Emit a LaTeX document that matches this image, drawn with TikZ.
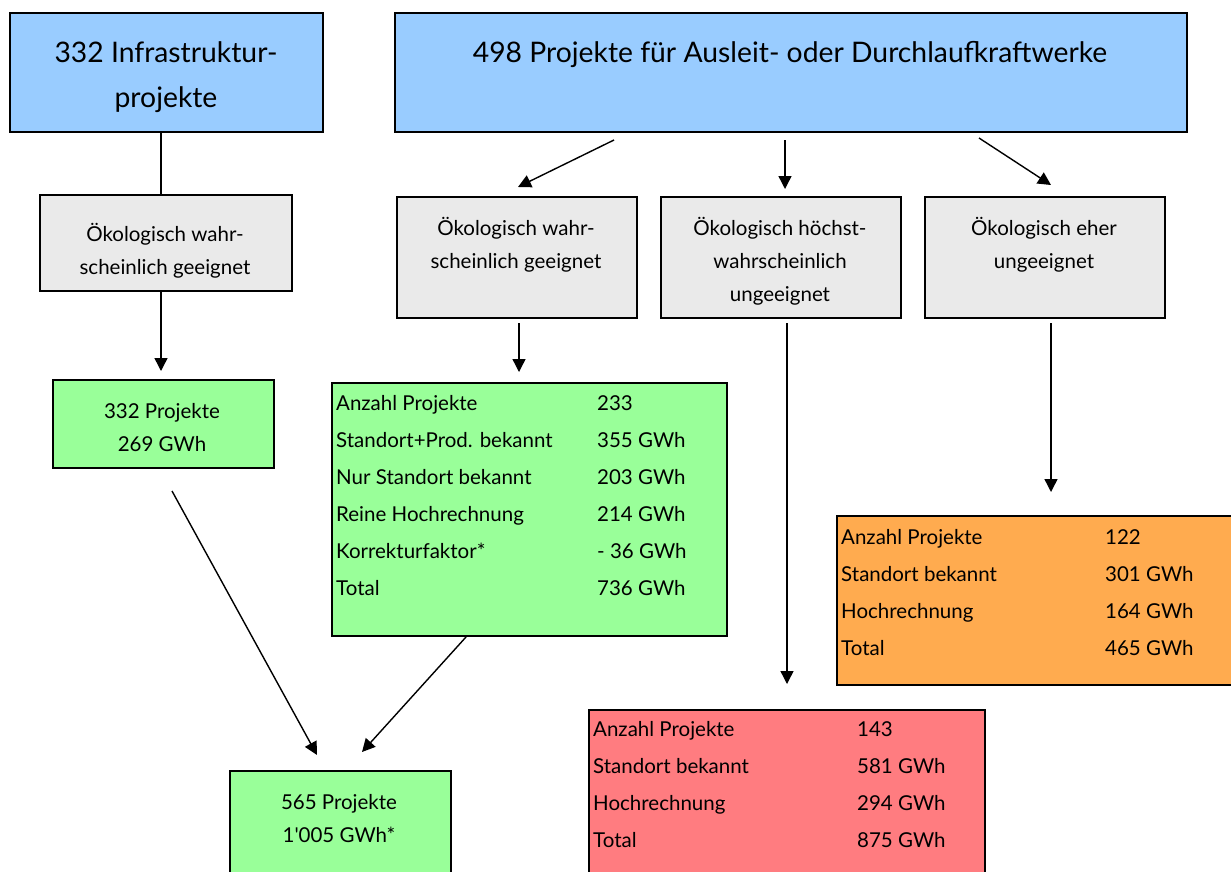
\documentclass[tikz,border=0pt]{standalone}
\usepackage{fontspec}
\setmainfont{Lato}
\usetikzlibrary{arrows.meta}
\definecolor{cblue}{HTML}{99CCFF}
\definecolor{cgrey}{HTML}{EAEAEA}
\definecolor{cgreen}{HTML}{99FF99}
\definecolor{corange}{HTML}{FFAB4F}
\definecolor{cred}{HTML}{FF7C80}
\newcommand{\straightquote}{\XeTeXglyph\numexpr\XeTeXcharglyph"27\relax}
\tikzset{
  box/.style={draw=black, line width=1.8pt, inner sep=0pt},
  txt/.style={inner sep=0pt, text height=0.72em, text depth=0.22em, yshift=-4pt, font=\fontsize{20.5}{20.5}\selectfont},
  big/.style={inner sep=0pt, text height=0.72em, text depth=0.22em, yshift=-3pt, font=\fontsize{28.3}{28.3}\selectfont},
  tab/.style={inner sep=0pt, anchor=west, text height=0.72em, text depth=0.22em, yshift=-4pt, font=\fontsize{20.5}{20.5}\selectfont},
  arr/.style={line width=1.4pt, -{Triangle[length=13pt,width=13pt]}},
  ln/.style={line width=1.4pt}
}
\begin{document}
\begin{tikzpicture}[x=1pt,y=-1pt]
\useasboundingbox (0,0) rectangle (1231,871);
\clip (0,0) rectangle (1231,871);
% boxes
\node[box, fill=cblue, minimum width=313pt, minimum height=119pt, anchor=north west] (A) at (9,12) {};
\node[box, fill=cblue, minimum width=792pt, minimum height=119pt, anchor=north west] (B) at (394,12) {};
\node[box, fill=cgrey, minimum width=252pt, minimum height=96pt, anchor=north west] (C) at (39,194) {};
\node[box, fill=cgreen, minimum width=221pt, minimum height=88pt, anchor=north west] (D) at (52,379) {};
\node[box, fill=cgrey, minimum width=240pt, minimum height=121pt, anchor=north west] (E) at (396,196) {};
\node[box, fill=cgrey, minimum width=240pt, minimum height=121pt, anchor=north west] (F) at (660,196) {};
\node[box, fill=cgrey, minimum width=240pt, minimum height=121pt, anchor=north west] (G) at (924,196) {};
\node[box, fill=cgreen, minimum width=395pt, minimum height=253pt, anchor=north west] (H) at (331,382) {};
\node[box, fill=cgreen, minimum width=221pt, minimum height=130pt, anchor=north west] (I) at (229,770) {};
\node[box, fill=cred, minimum width=396pt, minimum height=190pt, anchor=north west] (J) at (588,709) {};
\node[box, fill=corange, minimum width=420pt, minimum height=169pt, anchor=north west] (K) at (836,515) {};
% texts
\node[big] (A1) at (166,57) {332 Infrastruktur-};
\node[big] (A2) at (166,102) {projekte};
\node[big] (B1) at (790,57) {498 Projekte für Ausleit- oder Durchlaufkraftwerke};
\node[txt] (C1) at (165,235) {Ökologisch wahr-};
\node[txt] (C2) at (165,268) {scheinlich geeignet};
\node[txt] (D1) at (162,412) {332 Projekte};
\node[txt] (D2) at (162,445) {269 GWh};
\node[txt] (E1) at (516,229) {Ökologisch wahr-};
\node[txt] (E2) at (516,262) {scheinlich geeignet};
\node[txt] (F1) at (780,229) {Ökologisch höchst-};
\node[txt] (F2) at (780,262) {wahrscheinlich};
\node[txt] (F3) at (780,295) {ungeeignet};
\node[txt] (G1) at (1044,229) {Ökologisch eher};
\node[txt] (G2) at (1044,262) {ungeeignet};
\node[txt] (I1) at (339,803) {565 Projekte};
\node[txt] (I2) at (339,836) {1\straightquote005 GWh*};
% table H
\node[tab] (H1a) at (336,404) {Anzahl Projekte};   \node[tab] (H1b) at (597,404) {233};
\node[tab] (H2a) at (336,441) {Standort+Prod. bekannt}; \node[tab] (H2b) at (597,441) {355 GWh};
\node[tab] (H3a) at (336,478) {Nur Standort bekannt}; \node[tab] (H3b) at (597,478) {203 GWh};
\node[tab] (H4a) at (336,515) {Reine Hochrechnung}; \node[tab] (H4b) at (597,515) {214 GWh};
\node[tab] (H5a) at (336,552) {Korrekturfaktor*}; \node[tab] (H5b) at (597,552) {- 36 GWh};
\node[tab] (H6a) at (336,589) {Total}; \node[tab] (H6b) at (597,589) {736 GWh};
% table J
\node[tab] (J1a) at (593,730) {Anzahl Projekte}; \node[tab] (J1b) at (857,730) {143};
\node[tab] (J2a) at (593,767) {Standort bekannt}; \node[tab] (J2b) at (857,767) {581 GWh};
\node[tab] (J3a) at (593,804) {Hochrechnung}; \node[tab] (J3b) at (857,804) {294 GWh};
\node[tab] (J4a) at (593,841) {Total}; \node[tab] (J4b) at (857,841) {875 GWh};
% table K
\node[tab] (K1a) at (841,538) {Anzahl Projekte}; \node[tab] (K1b) at (1105,538) {122};
\node[tab] (K2a) at (841,575) {Standort bekannt}; \node[tab] (K2b) at (1105,575) {301 GWh};
\node[tab] (K3a) at (841,612) {Hochrechnung}; \node[tab] (K3b) at (1105,612) {164 GWh};
\node[tab] (K4a) at (841,649) {Total}; \node[tab] (K4b) at (1105,649) {465 GWh};
% connector endpoints
\coordinate (a1s) at (614,140); \coordinate (a1e) at (518,187);
\coordinate (a2s) at (785,140); \coordinate (a2e) at (785,189);
\coordinate (a3s) at (979,138); \coordinate (a3e) at (1051,185);
\coordinate (c1s) at (161,290); \coordinate (c1e) at (161,371);
\coordinate (d1s) at (172,491); \coordinate (d1e) at (317,755);
\coordinate (e1s) at (519,323); \coordinate (e1e) at (519,372);
\coordinate (h1s) at (466,637); \coordinate (h1e) at (362,752);
\coordinate (f1s) at (787,323); \coordinate (f1e) at (787,684);
\coordinate (g1s) at (1051,323); \coordinate (g1e) at (1051,492);
% connectors
\draw[ln] (A.south -| c1s) -- (C.north -| c1s);
\draw[arr] (a1s) -- (a1e);
\draw[arr] (a2s) -- (a2e);
\draw[arr] (a3s) -- (a3e);
\draw[arr] (c1s) -- (c1e);
\draw[arr] (d1s) -- (d1e);
\draw[arr] (e1s) -- (e1e);
\draw[arr] (h1s) -- (h1e);
\draw[arr] (f1s) -- (f1e);
\draw[arr] (g1s) -- (g1e);
\end{tikzpicture}
\end{document}
